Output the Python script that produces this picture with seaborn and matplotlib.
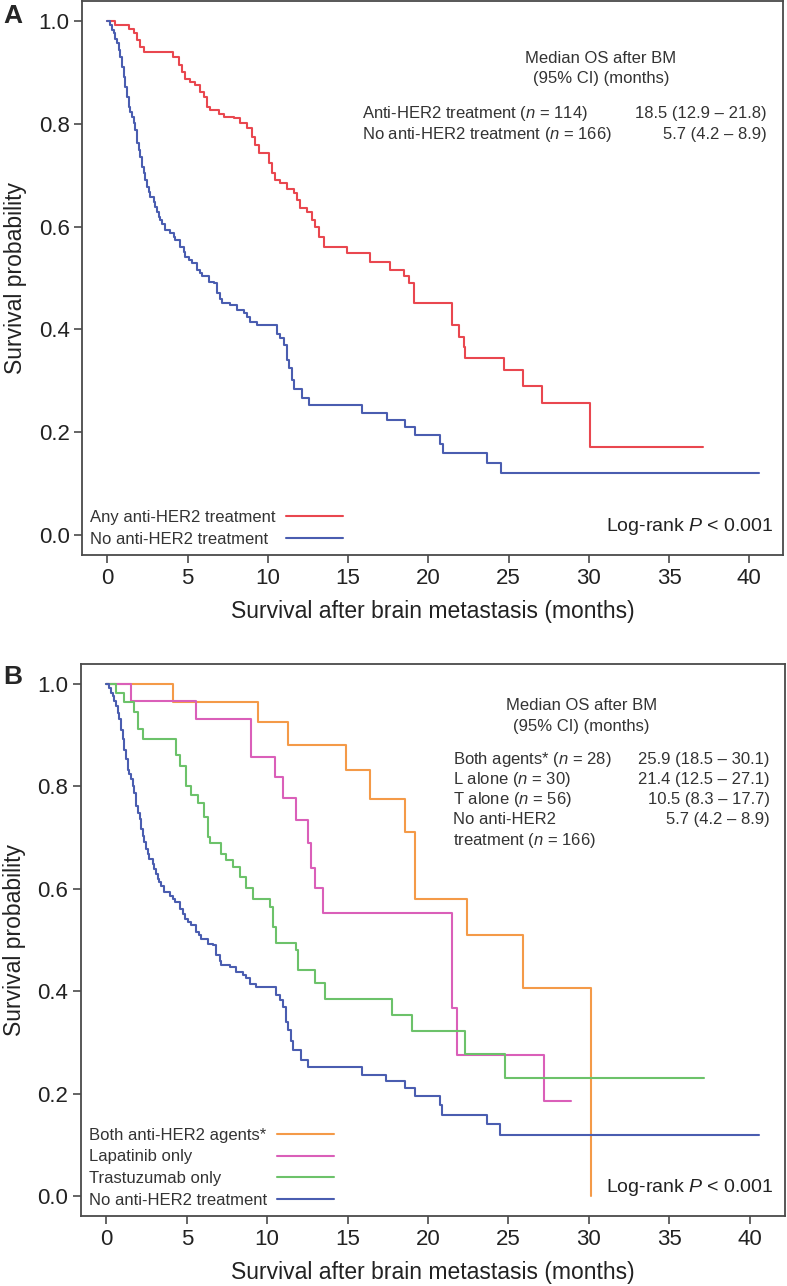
import matplotlib
matplotlib.use("Agg")
import matplotlib.pyplot as plt
import seaborn as sns
import pandas as pd

# Kaplan-Meier step points (time in months, survival)
any_t = [0, 0.46, 1.33, 1.64, 1.85, 2.05, 2.26, 4.1, 4.45, 4.65, 4.86, 5.17, 5.48, 5.79,
         6.0, 6.21, 6.42, 6.94, 7.25, 7.87, 8.29, 8.7, 9.01, 9.22, 9.43, 10.05, 10.26, 10.47,
         10.78, 11.19, 11.61, 11.82, 12.02, 12.44, 12.75, 12.96, 13.17, 13.48, 14.93, 16.39,
         17.63, 18.46, 18.77, 19.09, 21.47, 21.89, 22.2, 22.3, 24.7, 25.9, 27.1, 30.1, 37.1]
any_s = [1.0, 0.992, 0.984, 0.976, 0.964, 0.95, 0.94, 0.931, 0.914, 0.901, 0.888, 0.882, 0.875, 0.862,
         0.853, 0.833, 0.827, 0.82, 0.814, 0.811, 0.801, 0.791, 0.775, 0.759, 0.743, 0.723, 0.705, 0.691,
         0.684, 0.674, 0.665, 0.652, 0.636, 0.629, 0.613, 0.6, 0.58, 0.561, 0.548, 0.532,
         0.516, 0.503, 0.49, 0.451, 0.409, 0.386, 0.366, 0.344, 0.321, 0.289, 0.256, 0.172, 0.172]

none_t = [0, 0.19, 0.29, 0.39, 0.5, 0.6, 0.71, 0.81, 0.91, 1.02, 1.12, 1.23, 1.33, 1.43, 1.54,
          1.64, 1.74, 1.85, 1.95, 2.06, 2.16, 2.26, 2.37, 2.47, 2.58, 2.68, 2.89, 2.99, 3.1, 3.2,
          3.3, 3.41, 3.61, 3.93, 4.13, 4.24, 4.55, 4.75, 4.86, 5.07, 5.28, 5.59, 5.79, 5.9, 6.31,
          6.62, 6.83, 7.04, 7.15, 7.66, 8.08, 8.5, 8.7, 8.91, 9.33,
          10.57, 10.77, 10.98, 11.2, 11.3, 11.5, 11.61, 12.13, 12.55, 15.87,
          17.42, 18.57, 19.19, 20.75, 20.9, 23.65, 24.5, 40.6]
none_s = [1.0, 0.992, 0.982, 0.976, 0.966, 0.957, 0.944, 0.931, 0.911, 0.892, 0.872, 0.853, 0.833, 0.824, 0.814,
          0.801, 0.788, 0.762, 0.749, 0.736, 0.717, 0.704, 0.691, 0.678, 0.668, 0.658, 0.648, 0.639, 0.629, 0.619,
          0.613, 0.606, 0.593, 0.587, 0.58, 0.574, 0.561, 0.551, 0.541, 0.535, 0.529, 0.516, 0.509, 0.503, 0.493,
          0.49, 0.47, 0.46, 0.451, 0.447, 0.438, 0.431, 0.425, 0.415, 0.409,
          0.392, 0.383, 0.37, 0.34, 0.324, 0.302, 0.285, 0.266, 0.253, 0.237,
          0.224, 0.211, 0.195, 0.178, 0.159, 0.14, 0.12, 0.12]

both_t = [0, 4.13, 9.43, 11.3, 14.93, 16.4, 18.57, 19.2, 22.4, 25.9, 30.15]
both_s = [1.0, 0.964, 0.925, 0.881, 0.832, 0.775, 0.712, 0.581, 0.51, 0.407, 0.0]

lap_t = [0, 1.54, 5.59, 9.0, 10.47, 11.0, 11.8, 12.54, 12.75, 12.96, 13.44, 21.47, 21.8, 27.2, 28.9]
lap_s = [1.0, 0.966, 0.932, 0.857, 0.819, 0.777, 0.734, 0.689, 0.641, 0.601, 0.552, 0.367, 0.275, 0.186, 0.186]

tra_t = [0, 0.6, 1.12, 1.74, 1.95, 2.26, 4.34, 4.55, 4.97, 5.28, 5.69, 6.1, 6.31, 6.42, 7.15, 7.46,
         7.87, 8.29, 8.7, 9.12, 10.16, 10.36, 10.57, 11.82, 11.92, 12.96, 13.58, 17.74, 18.98, 22.3,
         24.8, 37.15]
tra_s = [1.0, 0.982, 0.964, 0.946, 0.913, 0.893, 0.861, 0.839, 0.8, 0.783, 0.767, 0.741, 0.702, 0.689,
         0.669, 0.656, 0.643, 0.624, 0.601, 0.581, 0.565, 0.526, 0.494, 0.48, 0.441, 0.416, 0.384, 0.353,
         0.323, 0.277, 0.231, 0.231]

labels_a = ["Any anti-HER2 treatment", "No anti-HER2 treatment"]
labels_b = ["Both anti-HER2 agents*", "Lapatinib only", "Trastuzumab only", "No anti-HER2 treatment"]

rows_a = ["Anti-HER2 treatment ($n$ = 114)", "No anti-HER2 treatment ($n$ = 166)"]
meds_a = ["18.5 (12.9 \u2013 21.8)", "5.7 (4.2 \u2013 8.9)"]
rows_b = ["Both agents* ($n$ = 28)", "L alone ($n$ = 30)", "T alone ($n$ = 56)",
          "No anti-HER2", "treatment ($n$ = 166)"]
meds_b = ["25.9 (18.5 \u2013 30.1)", "21.4 (12.5 \u2013 27.1)", "10.5 (8.3 \u2013 17.7)", "5.7 (4.2 \u2013 8.9)"]

red = "#E9474F"
blue = "#4A5DB0"
orange = "#F49A48"
pink = "#DA5FB9"
green = "#6CC26A"

sns.set_style("white")
plt.rcParams['font.family'] = ['Liberation Sans', 'DejaVu Sans']
plt.rcParams['mathtext.fontset'] = 'custom'
plt.rcParams['mathtext.rm'] = 'Liberation Sans'
plt.rcParams['mathtext.it'] = 'Liberation Sans:italic'

fig = plt.figure(figsize=(7.87, 12.86), dpi=100)
axA = fig.add_axes([0.1042, 0.5684, 0.8907, 0.4308])
axB = fig.add_axes([0.1029, 0.0544, 0.8945, 0.4292])


def km(ax, t, s, color, label):
    df = pd.DataFrame({"t": t, "s": s})
    sns.lineplot(data=df, x="t", y="s", ax=ax, color=color, lw=1.5, label=label,
                 drawstyle="steps-post", estimator=None, sort=False)


km(axA, any_t, any_s, red, labels_a[0])
km(axA, none_t, none_s, blue, labels_a[1])

km(axB, both_t, both_s, orange, labels_b[0])
km(axB, lap_t, lap_s, pink, labels_b[1])
km(axB, tra_t, tra_s, green, labels_b[2])
km(axB, none_t, none_s, blue, labels_b[3])

legends = []
for ax, xmax in [(axA, 42.1), (axB, 42.2)]:
    ax.set_xlim(-1.58, xmax)
    ax.set_ylim(-0.039, 1.039)
    ax.set_xticks(range(0, 41, 5))
    ax.set_yticks([0, 0.2, 0.4, 0.6, 0.8, 1.0])
    ax.set_yticklabels(["0.0", "0.2", "0.4", "0.6", "0.8", "1.0"])
    for sp in ax.spines.values():
        sp.set_color("#4a4a4a")
        sp.set_linewidth(1.3)
    ax.tick_params(bottom=True, left=True, direction="out", length=6, width=1.2,
                   color="#4a4a4a", labelsize=16, labelcolor="#222222", pad=3)
    ax.set_xlabel("Survival after brain metastasis (months)", fontsize=16.5,
                  color="#222222", labelpad=8)
    ax.set_ylabel("Survival probability", fontsize=16.5, color="#222222", labelpad=8)
    leg = ax.legend(loc="lower left", markerfirst=False, frameon=False, fontsize=12,
                    handlelength=3.4, handletextpad=0.6, labelspacing=0.4,
                    borderaxespad=0.3, borderpad=0.2)
    for txt in leg.get_texts():
        txt.set_color("#333333")
    legends.append(leg)
    ax.text(41.5, 0.016, "Log-rank $P$ < 0.001", ha="right", va="center",
            fontsize=14, color="#222222")

# left-align legend labels while keeping the line samples in one column
fig.canvas.draw()
renderer = fig.canvas.get_renderer()
for leg in legends:
    widths = [t.get_window_extent(renderer).width for t in leg.get_texts()]
    wmax = max(widths)
    col = leg._legend_handle_box.get_children()[0]
    col.align = "left"
    for row, w in zip(col.get_children(), widths):
        row.sep = row.sep + (wmax - w) * 72 / fig.dpi

# Panel A median OS table
txt_kw = dict(fontsize=12, color="#333333", va="center")
axA.text(30.76, 0.928, "Median OS after BM", ha="center", **txt_kw)
axA.text(30.76, 0.889, "(95% CI) (months)", ha="center", **txt_kw)
for i, (r, m) in enumerate(zip(rows_a, meds_a)):
    y = 0.821 - i * 0.041
    axA.text(15.87, y, r, ha="left", **txt_kw)
    axA.text(41.1, y, m, ha="right", **txt_kw)

# Panel B median OS table
axB.text(29.54, 0.959, "Median OS after BM", ha="center", **txt_kw)
axB.text(29.54, 0.918, "(95% CI) (months)", ha="center", **txt_kw)
for i, r in enumerate(rows_b):
    axB.text(21.58, 0.853 - i * 0.0395, r, ha="left", **txt_kw)
for i, m in enumerate(meds_b):
    axB.text(41.27, 0.853 - i * 0.0395, m, ha="right", **txt_kw)

fig.text(0.004, 1 - 16 / 1286, "A", fontsize=19, fontweight="bold", va="center", ha="left")
fig.text(0.004, 1 - 677 / 1286, "B", fontsize=19, fontweight="bold", va="center", ha="left")

fig.savefig("out.png", dpi=100)
